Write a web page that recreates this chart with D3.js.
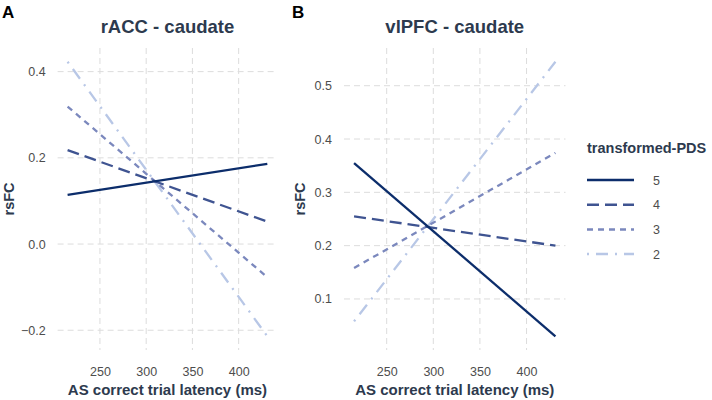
<!DOCTYPE html>
<html><head><meta charset="utf-8">
<script src="https://cdn.jsdelivr.net/npm/d3@7/dist/d3.min.js"></script>
<style>body{margin:0;background:#fff;} svg{display:block;font-family:"Liberation Sans",Arial,sans-serif;}</style>
</head><body>
<svg id="c" width="712" height="400"></svg>
<script>
// ---- data ----
const groups = ["5", "4", "3", "2"];
const latency = [215, 431];
const rACC = { "5": [0.114, 0.186], "4": [0.218, 0.052], "3": [0.319, -0.077], "2": [0.423, -0.214] };
const vlPFC = { "5": [0.355, 0.030], "4": [0.255, 0.200], "3": [0.158, 0.374], "2": [0.058, 0.545] };
const xTicks = [250, 300, 350, 400];
const yTicksA = [-0.2, 0.0, 0.2, 0.4];
const yTicksB = [0.1, 0.2, 0.3, 0.4, 0.5];
const panelTitles = ["rACC - caudate", "vlPFC - caudate"];
const panelTags = ["A", "B"];

// ---- styles ----
const colors = { "5": "#0c2d6b", "4": "#3f5491", "3": "#7b88bd", "2": "#b8c7e6" };
const dashes = { "5": null, "4": "12,6", "3": "6,5", "2": "2,7,12,7" };
const textDark = "#2d3a4e";
const tickCol = "#4d4d4d";
const gridCol = "#dcdcdc";

const svg = d3.select("#c");

function expand(ext) { const d = (ext[1] - ext[0]) * 0.05; return [ext[0] - d, ext[1] + d]; }

function panel(data, yTicks, box, title, tag, tagX, labX) {
  const xDom = expand(d3.extent(latency));
  const allY = groups.flatMap(g => data[g]);
  const yDom = expand(d3.extent(allY));
  const x = d3.scaleLinear().domain(xDom).range([box.x0, box.x1]);
  const y = d3.scaleLinear().domain(yDom).range([box.y1, box.y0]);
  const g = svg.append("g");
  // grid
  g.selectAll(".gx").data(xTicks).join("line")
    .attr("x1", d => x(d)).attr("x2", d => x(d)).attr("y1", box.y0).attr("y2", box.y1)
    .attr("stroke", gridCol).attr("stroke-width", 1).attr("stroke-dasharray", "6,4");
  g.selectAll(".gy").data(yTicks).join("line")
    .attr("y1", d => y(d)).attr("y2", d => y(d)).attr("x1", box.x0).attr("x2", box.x1)
    .attr("stroke", gridCol).attr("stroke-width", 1).attr("stroke-dasharray", "6,4");
  // axes
  const xa = g.append("g").attr("transform", `translate(0,${box.y1})`)
    .call(d3.axisBottom(x).tickValues(xTicks).tickSize(0).tickPadding(17));
  const ya = g.append("g").attr("transform", `translate(${box.x0},0)`)
    .call(d3.axisLeft(y).tickValues(yTicks).tickFormat(d3.format(".1f")).tickSize(0).tickPadding(12));
  [xa, ya].forEach(a => {
    a.select(".domain").remove();
    a.selectAll("text").attr("fill", tickCol).attr("font-size", 12.5)
      .attr("font-family", "'Liberation Sans',Arial,sans-serif");
  });
  // lines
  const line = d3.line().x(d => x(d[0])).y(d => y(d[1]));
  groups.slice().reverse().forEach(k => {
    g.append("path").datum(latency.map((lv, i) => [lv, data[k][i]]))
      .attr("d", line).attr("fill", "none").attr("stroke", colors[k])
      .attr("stroke-width", 2.3).attr("stroke-dasharray", dashes[k]);
  });
  const cx = (box.x0 + box.x1) / 2;
  g.append("text").attr("x", cx).attr("y", 33).attr("text-anchor", "middle")
    .attr("font-size", 18.5).attr("font-weight", "bold").attr("fill", textDark).text(title);
  g.append("text").attr("x", cx).attr("y", 395).attr("text-anchor", "middle")
    .attr("font-size", 15).attr("font-weight", "bold").attr("fill", textDark).text("AS correct trial latency (ms)");
  g.append("text").attr("transform", `translate(${labX},${(box.y0 + box.y1) / 2}) rotate(-90)`)
    .attr("text-anchor", "middle").attr("font-size", 14.5).attr("font-weight", "bold")
    .attr("fill", textDark).text("rsFC");
  g.append("text").attr("x", tagX).attr("y", 18).attr("font-size", 17).attr("font-weight", "bold")
    .attr("fill", "#000").text(tag);
}

panel(rACC, yTicksA, { x0: 57.6, x1: 277.3, y0: 48, y1: 350 }, panelTitles[0], panelTags[0], 2, 14);
panel(vlPFC, yTicksB, { x0: 344, x1: 565.5, y0: 48, y1: 350 }, panelTitles[1], panelTags[1], 292, 305);

// legend
const lg = svg.append("g");
lg.append("text").attr("x", 587).attr("y", 153).attr("font-size", 14.5).attr("font-weight", "bold")
  .attr("fill", textDark).text("transformed-PDS");
groups.forEach((k, i) => {
  const yy = 180 + i * 24.7;
  lg.append("line").attr("x1", 587).attr("x2", 634).attr("y1", yy).attr("y2", yy)
    .attr("stroke", colors[k]).attr("stroke-width", 2.5).attr("stroke-dasharray", dashes[k]);
  lg.append("text").attr("x", 653).attr("y", yy + 4.5).attr("font-size", 12.5).attr("fill", tickCol).text(k);
});
</script>
</body></html>
